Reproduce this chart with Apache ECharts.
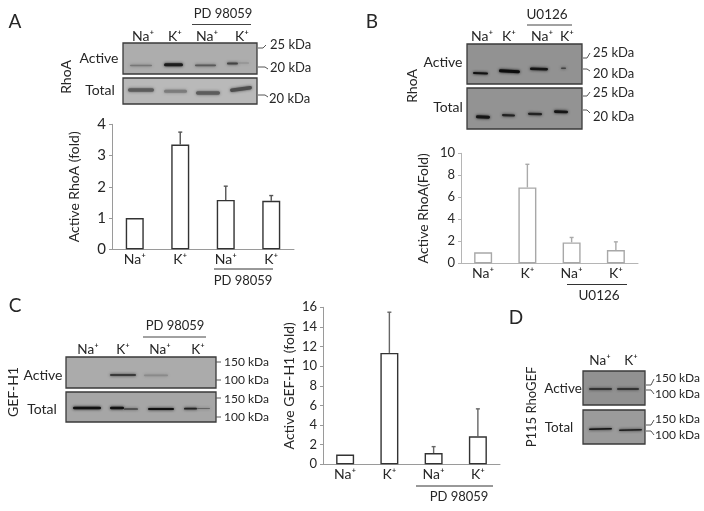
<!DOCTYPE html>
<html><head><meta charset="utf-8">
<style>html,body{margin:0;padding:0;background:#fff}#c{width:704px;height:511px}</style>
<script src="https://cdn.jsdelivr.net/npm/echarts@6/dist/echarts.min.js"></script>
</head><body><div id="c"></div>
<script>
const categories = ['Na⁺','K⁺','Na⁺','K⁺'];
const valuesA = [1, 3.35, 1.58, 1.55];
const errorTopA = [null, 3.75, 2.02, 1.72];
const valuesB = [1, 6.9, 1.9, 1.2];
const errorTopB = [null, 9.0, 2.35, 1.95];
const valuesC = [1, 11.35, 1.15, 2.85];
const errorTopC = [null, 15.5, 1.8, 5.65];
const FONT = 'Lato';
const INK = '#262626';

const gfx = [];
function text(x, y, s, size, opt) {
  opt = opt || {};
  gfx.push({type:'text', x, y, rotation: opt.rot || 0, silent:true,
    style:{text:s, fill:INK, font: size+'px '+FONT, textAlign: opt.align||'center', textVerticalAlign:'middle'}});
}
function line(x1, y, x2, color, w) {
  gfx.push({type:'line', silent:true, shape:{x1, y1:y, x2, y2:y}, style:{stroke:color||'#333', lineWidth:w||1}});
}
function blot(x1, y1, x2, y2, fill) {
  gfx.push({type:'rect', silent:true, shape:{x:x1, y:y1, width:x2-x1, height:y2-y1},
    style:{fill, stroke:'#3a3a3a', lineWidth:1.3}});
}
function band(x1, x2, y, h, color, tilt) {
  const w=x2-x1;
  gfx.push({type:'rect', silent:true, x:(x1+x2)/2, y, rotation:tilt||0,
    shape:{x:-w/2, y:-h/2, width:w, height:h, r:h/2},
    style:{fill:color, shadowBlur:3, shadowColor:color}});
}
function tick(x1, y1, x2, y2) {
  gfx.push({type:'polyline', silent:true, shape:{points:[[x1,y1],[x2-3,y1],[x2,y2]]},
    style:{stroke:'#555', lineWidth:1, fill:null}});
}

/* Panel letters */
text(15,22,'A',19); text(372,22,'B',19); text(15,306,'C',19); text(516,318,'D',19);

/* Panel A */
blot(123,43,257,74,'#adadad'); blot(123,78,257,104,'#b9b9b9');
band(130,152,65.5,1.6,'#777'); band(164,183,64.8,3,'#1c1c1c'); band(195,216,65.3,1.8,'#5a5a5a');
band(227,238,63.5,1.8,'#444'); band(238,249,63,1,'#8c8c8c');
band(128,154,90,3.4,'#5c5c5c'); band(164,187,91.3,3,'#7c7c7c'); band(196,220,93,3.4,'#5c5c5c'); band(230,252,89,3.4,'#4d4d4d',0.13);
text(143,36,'Na⁺',14); text(175,36,'K⁺',14); text(207,36,'Na⁺',14); text(242,36,'K⁺',14);
text(223,14,'PD 98059',13); line(192,24.5,251,'#444',1);
text(99,58,'Active',14); text(100,90,'Total',14);
text(66,77,'RhoA',14,{rot:Math.PI/2});
text(270,45,'25 kDa',13,{align:'left'}); text(270,68,'20 kDa',13,{align:'left'}); text(269,99,'20 kDa',13,{align:'left'});
tick(258,48,266,45); tick(258,67,268,69); tick(258,95,268,97);
line(214,269,273,'#333',1); text(243,281,'PD 98059',13);

/* Panel B */
blot(467,44,582,84,'#929292'); blot(467,88,582,129,'#939393');
band(473,488,73.3,2,'#111',-0.03); band(499,520,71.3,3,'#0c0c0c',-0.05); band(530,548,69,2.4,'#151515',-0.03); band(561,566,68.3,1.5,'#444');
band(476,490,117,3,'#151515',-0.04); band(502,515,115.3,2.2,'#222',-0.04); band(528,542,114,2.2,'#222',-0.02); band(554,568,111.8,2.6,'#151515',-0.03);
text(482,36,'Na⁺',14); text(509,36,'K⁺',14); text(542,36,'Na⁺',14); text(567,36,'K⁺',14);
text(547,15,'U0126',13.5); line(527,25,572,'#444',1);
text(443,62,'Active',14); text(448,107,'Total',14);
text(412,86,'RhoA',14,{rot:Math.PI/2});
text(593,53,'25 kDa',13,{align:'left'}); text(593,74,'20 kDa',13,{align:'left'}); text(593,93,'25 kDa',13,{align:'left'}); text(593,117,'20 kDa',13,{align:'left'});
tick(583,58,590,53); tick(583,69,590,71); tick(583,96,590,92); tick(583,110,590,113);
line(567,284.5,627,'#333',1); text(599,296,'U0126',13.5);

/* Panel C */
blot(66,357,216,388,'#ababab'); blot(66,392,216,422,'#a6a6a6');
band(110,136,375,2,'#3a3a3a'); band(144,168,375.3,1.8,'#8a8a8a');
band(73,101,408,2.4,'#111'); band(110,124,408,2.4,'#111'); band(124,138,409,1.2,'#222'); band(148,174,409,2,'#111'); band(184,197,408.7,1.8,'#222'); band(197,210,408.7,0.8,'#555');
text(88,350,'Na⁺',13.5); text(123,350,'K⁺',13.5); text(160,350,'Na⁺',13.5); text(198,350,'K⁺',13.5);
text(175,326,'PD 98059',13); line(143,337,206,'#444',1);
text(43,375,'Active',14); text(42,409,'Total',14);
text(13,392,'GEF-H1',14,{rot:Math.PI/2});
text(224,362,'150 kDa',12,{align:'left'}); text(224,380,'100 kDa',12,{align:'left'}); text(224,399,'150 kDa',12,{align:'left'}); text(224,417,'100 kDa',12,{align:'left'});
line(216,362,221,'#555',1); line(216,380,221,'#555',1); line(216,398,221,'#555',1); line(216,417,221,'#555',1);
line(416,486,493,'#333',1); text(459,497,'PD 98059',13);

/* Panel D */
blot(583,371,645,405,'#919191'); blot(583,410,645,444,'#9b9b9b');
band(589,612,389,1.6,'#222'); band(617,639,389,1.6,'#222');
band(589,612,429,1.6,'#111',0.02); band(619,642,430,1.6,'#1c1c1c',0.02);
text(600,361,'Na⁺',13.5); text(631,361,'K⁺',13.5);
text(563,389,'Active',13.5); text(559,428,'Total',13.5);
text(532,407,'P115 RhoGEF',13,{rot:Math.PI/2});
text(655,378,'150 kDa',12,{align:'left'}); text(655,394,'100 kDa',12,{align:'left'}); text(655,419,'150 kDa',12,{align:'left'}); text(655,435,'100 kDa',12,{align:'left'});
tick(646,385,654,379); tick(646,390,654,394); tick(646,425,654,420); tick(646,431,654,435);

/* Chart panels */
const panels = [
  {left:112, top:124.3, w:182, h:125, max:4, interval:1, values:valuesA, err:errorTopA,
   title:'Active RhoA (fold)', titleGap:31, tsize:15, lsize:14, nsize:14, axis:'#9a9a9a', edge:'#333', bw:18, lm:3, ecolor:'#555'},
  {left:461, top:153.3, w:177, h:110, max:10, interval:2, values:valuesB, err:errorTopB,
   title:'Active RhoA(Fold)', titleGap:31, tsize:13, lsize:14, nsize:14, axis:'#b5b5b5', edge:'#a8a8a8', bw:18, lm:3, ecolor:'#aaa'},
  {left:323, top:307.3, w:177, h:157, max:16, interval:2, values:valuesC, err:errorTopC,
   title:'Active GEF-H1 (fold)', titleGap:27, tsize:13, lsize:14, nsize:14, axis:'#9a9a9a', edge:'#333', bw:18, lm:3, ecolor:'#666'}
];
const grid=[], xAxis=[], yAxis=[], series=[];
panels.forEach((p,i)=>{
  grid.push({left:p.left, top:p.top, width:p.w, height:p.h});
  xAxis.push({type:'category', gridIndex:i, data:categories,
    axisLine:{lineStyle:{color:p.axis,width:1}}, axisTick:{show:false},
    axisLabel:{color:INK, fontFamily:FONT, fontSize:p.lsize, margin:p.lm}});
  yAxis.push({type:'value', gridIndex:i, min:0, max:p.max, interval:p.interval,
    name:p.title, nameLocation:'middle', nameGap:p.titleGap, nameRotate:90,
    nameTextStyle:{color:INK, fontFamily:FONT, fontSize:p.nsize},
    splitLine:{show:false},
    axisLine:{show:true, lineStyle:{color:p.axis,width:1}},
    axisTick:{show:true, length:3, lineStyle:{color:p.axis}},
    axisLabel:{color:INK, fontFamily:FONT, fontSize:p.tsize, margin:6}});
  series.push({type:'bar', xAxisIndex:i, yAxisIndex:i, data:p.values, barWidth:p.bw, silent:true,
    itemStyle:{color:'#fff', borderColor:p.edge, borderWidth:1.4}});
  series.push({type:'custom', xAxisIndex:i, yAxisIndex:i, silent:true, clip:false,
    data:p.values.map((v,j)=>[j,v,p.err[j]]),
    encode:{x:0,y:[1,2]},
    renderItem:(params,api)=>{
      if(api.value(2)==null || isNaN(api.value(2))) return null;
      const a=api.coord([api.value(0),api.value(1)]), b=api.coord([api.value(0),api.value(2)]);
      const st={stroke:p.ecolor,lineWidth:1.4,fill:null};
      return {type:'group',children:[
        {type:'line',shape:{x1:a[0],y1:a[1],x2:b[0],y2:b[1]},style:st},
        {type:'line',shape:{x1:a[0]-2,y1:b[1],x2:a[0]+2,y2:b[1]},style:st}
      ]};
    }});
});
const chart = echarts.init(document.getElementById('c'),null,{renderer:'canvas'});
chart.setOption({animation:false, backgroundColor:'#fff', grid, xAxis, yAxis, series, graphic:{elements:gfx}});
</script></body></html>
